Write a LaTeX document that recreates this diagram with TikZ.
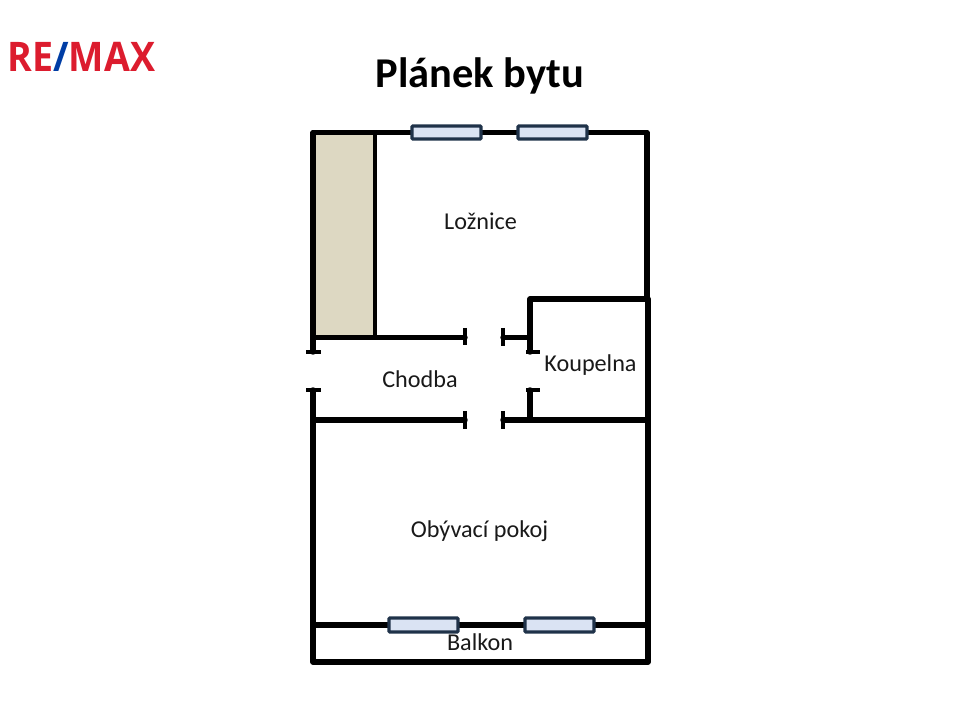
\documentclass[tikz,border=0pt]{standalone}
\usepackage{fontspec}
\setmainfont{Carlito}
\newfontfamily\logofont{Open Sans}
\definecolor{closet}{HTML}{DDD8C2}
\definecolor{glass}{HTML}{DAE3F3}
\definecolor{frame}{HTML}{1F3249}
\definecolor{logored}{HTML}{DC1C2E}
\definecolor{logoblue}{HTML}{003DA5}
\tikzset{wall/.style={black, line width=3.9pt, line cap=round, line join=round}}
\tikzset{partition/.style={black, line width=2.4pt}}
\tikzset{jamb/.style={black, line width=2.8pt}}
\tikzset{window/.style={draw=frame, fill=glass, line width=2.2pt, rounded corners=0.5pt}}
\tikzset{room/.style={text=black!90, font=\fontsize{17.2}{20}\selectfont, inner sep=0pt}}

\begin{document}
\begin{tikzpicture}[x=0.025cm, y=-0.025cm]
      \useasboundingbox (0, 0) rectangle (960, 720);

      \fill [closet] (313, 132.5) rectangle (375, 338);

      \draw [wall] (313, 352) -- (313, 132.5) -- (647, 132.5) -- (647, 298);
      \draw [wall] (313, 390) -- (313, 662) -- (648, 662) -- (648, 299) -- (530, 299) -- (530, 352);
      \draw [partition] (375, 132.5) -- (375, 338);
      \draw [wall] (313, 337.5) -- (465, 337.5);
      \draw [wall] (503, 337.5) -- (530, 337.5);
      \draw [wall] (313, 420) -- (465, 420);
      \draw [wall] (503, 420) -- (648, 420);
      \draw [wall] (530, 390) -- (530, 420);
      \draw [wall] (313, 625) -- (648, 625);

      \draw [jamb] (306, 352) -- (321, 352);
      \draw [jamb] (306, 390) -- (321, 390);
      \draw [jamb] (526, 352) -- (540, 352);
      \draw [jamb] (526, 390) -- (540, 390);
      \draw [jamb] (465, 328) -- (465, 345);
      \draw [jamb] (503, 328) -- (503, 346);
      \draw [jamb] (465, 411) -- (465, 429);
      \draw [jamb] (503, 411) -- (503, 429);

      \draw [window] (412, 126) rectangle (481, 139);
      \draw [window] (518, 126) rectangle (587, 139);
      \draw [window] (389, 618) rectangle (458, 632);
      \draw [window] (525, 618) rectangle (594, 632);

      \node (title) at (480, 76) {\fontsize{30.2}{34}\selectfont\bfseries Plánek bytu};
      \node [room] (loznice) at (480.5, 221) {Ložnice};
      \node [room] (koupelna) at (590.5, 365) {Koupelna};
      \node [room] (chodba) at (420, 379) {Chodba};
      \node [room] (obyvaci) at (479.5, 531) {Obývací pokoj};
      \node [room] (balkon) at (480, 642.5) {Balkon};

      \node [inner sep=0pt] (logo) at (81.5, 56.5) {\scalebox{0.92}[1]{\logofont\bfseries\fontsize{29}{32}\selectfont\textcolor{logored}{RE}\textcolor{logoblue}{/}\textcolor{logored}{MAX}}};
    \end{tikzpicture}
\end{document}
